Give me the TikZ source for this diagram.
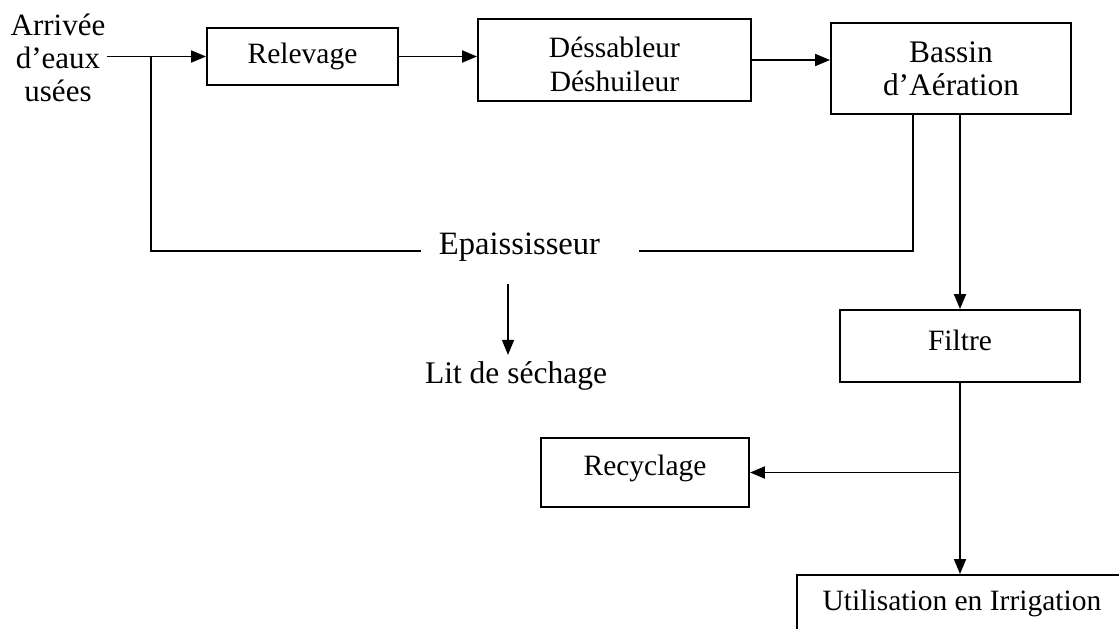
\documentclass[tikz,border=0pt]{standalone}
\usepackage{fontspec}
\setmainfont{Liberation Serif}
\usetikzlibrary{arrows.meta}

\begin{document}
\begin{tikzpicture}[x=1pt, y=-1pt,
    procbox/.style={draw, line width=1.9pt, align=center, inner sep=0pt,
      font=\fontsize{29.5}{34}\selectfont},
    flow/.style={line width=1.9pt, -{Triangle[length=15pt, width=12pt]}},
    loopline/.style={line width=1.5pt}]
  \useasboundingbox (0,0) rectangle (1119,629);

  % entree et chaine de traitement
  \node[align=center, inner sep=1pt, font=\fontsize{31}{33}\selectfont] (arr) at (58,58) {Arrivée\\d’eaux\\usées};
  \node[procbox, minimum width=191, minimum height=57] (relev) at (302.5,56.5) {Relevage};
  \node[procbox, minimum width=273, minimum height=82] (dess) at (614.5,60) {\rule{0pt}{29pt}Déssableur\\Déshuileur};
  \node[procbox, minimum width=240, minimum height=91, font=\fontsize{31.4}{33}\selectfont] (bassin) at (951,68.5) {Bassin\\d’Aération};
  \node[procbox, minimum width=240, minimum height=72, text height=20pt, text depth=12pt] (filtre) at (960,346) {Filtre};
  \node[procbox, minimum width=208, minimum height=69, text height=20pt, text depth=14pt] (recyc) at (645,472.5) {Recyclage};
  \node[procbox, anchor=north west, minimum width=330, text height=21pt, text depth=45pt, inner ysep=15pt] (util) at (796,574) {Utilisation en Irrigation};

  % boues
  \node[anchor=base, font=\fontsize{32.6}{36}\selectfont] (epais) at (519.5,254) {Epaississeur};
  \node[anchor=base, inner sep=6pt, font=\fontsize{31.5}{34}\selectfont] (lit) at (516,383) {Lit de séchage};

  \coordinate (jn) at (151,56.5);
  \coordinate (epL) at (421,251);
  \coordinate (epR) at (639,251);
  \coordinate (ret) at (913,251);
  \coordinate (epdn) at (508,284);

  \draw[flow] (arr.east |- relev.west) -- (relev.west);
  \draw[flow] (relev.east) -- (relev.east -| dess.west);
  \draw[flow] (dess.east) -- (dess.east -| bassin.west);
  \draw[flow] (bassin.south -| filtre.north) -- (filtre.north);
  \draw[flow] (filtre.south) -- (filtre.south |- util.north);
  \draw[flow] (filtre.south |- recyc.east) -- (recyc.east);

  \draw[loopline] (jn |- relev.west) |- (epL);
  \draw[loopline] (epR) -| (bassin.south -| ret);
  \draw[flow, line width=1.5pt] (epdn) -- (epdn |- lit.north);
\end{tikzpicture}
\end{document}
